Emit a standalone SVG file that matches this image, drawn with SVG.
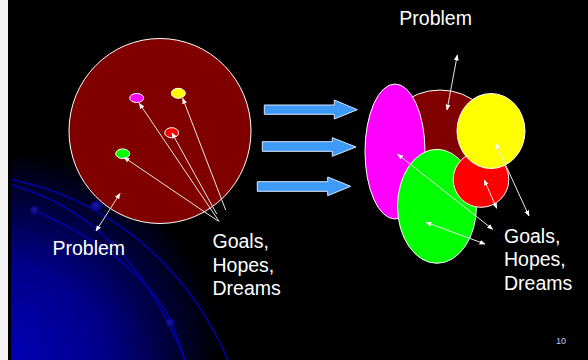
<svg xmlns="http://www.w3.org/2000/svg" width="588" height="360" viewBox="0 0 588 360">
<defs>
<radialGradient id="bg" cx="10" cy="360" r="210" gradientUnits="userSpaceOnUse">
<stop offset="0" stop-color="#0000b4"/>
<stop offset="0.45" stop-color="#00008a"/>
<stop offset="0.8" stop-color="#000030"/>
<stop offset="1" stop-color="#000000"/>
</radialGradient>
<radialGradient id="dot" cx="0.4" cy="0.4" r="0.6">
<stop offset="0" stop-color="#1a1aa8"/>
<stop offset="1" stop-color="#000070"/>
</radialGradient>
<marker id="ah" viewBox="0 0 10 10" refX="9" refY="5" markerWidth="6" markerHeight="6" orient="auto-start-reverse" markerUnits="userSpaceOnUse">
<path d="M0,1 L10,5 L0,9 z" fill="#ffffff"/>
</marker>
<style>
.lbl{font-family:"Liberation Sans",Arial,sans-serif;font-size:19.5px;fill:#ffffff}
.shape{stroke:#ffffff;stroke-width:1}
.big{fill:#800000;stroke:#ffffff;stroke-width:1}
.ln{stroke:#e8e8e8;stroke-width:1;fill:none}
.arr{stroke:#e8e8e8;stroke-width:1;fill:none;marker-end:url(#ah)}
.arr2{stroke:#e8e8e8;stroke-width:1;fill:none;marker-end:url(#ah);marker-start:url(#ah)}
.curve{stroke:#0000a8;stroke-width:1.6;fill:none}
.blue{fill:#3d9bf7;stroke:#d8e8ff;stroke-width:1}
</style>
</defs>
<rect x="0" y="0" width="588" height="360" fill="#000000"/>
<rect x="11" y="0" width="577" height="360" fill="url(#bg)"/>
<rect x="0" y="0" width="8" height="360" fill="#f4f4f4"/>
<g id="decor">
<path class="curve" d="M 12 180 C 90 195, 180 250, 228 360"/>
<path class="curve" d="M 12 185 C 80 205, 140 250, 185 360"/>
<path class="curve" d="M 35 211 C 90 235, 145 270, 172 323 L 185 360"/>
<ellipse cx="96.5" cy="206.5" rx="6" ry="5.5" fill="url(#dot)"/>
<circle cx="35" cy="210.7" r="4.5" fill="url(#dot)"/>
<circle cx="170.7" cy="323.3" r="4.5" fill="url(#dot)"/>
</g>
<g id="problem-left">
<ellipse class="big" cx="160" cy="131" rx="91" ry="92.5"/>
</g>
<g id="goal-magenta-small"><ellipse class="shape" cx="136.7" cy="98" rx="7" ry="4.5" fill="#ff00ff"/></g>
<g id="goal-yellow-small"><ellipse class="shape" cx="178.3" cy="93.3" rx="7" ry="5" fill="#ffff00"/></g>
<g id="goal-red-small"><ellipse class="shape" cx="171.7" cy="132.7" rx="7" ry="5" fill="#ff0000"/></g>
<g id="goal-green-small"><ellipse class="shape" cx="122.7" cy="153.7" rx="7" ry="4.8" fill="#00ff00"/></g>
<g id="arrows-blue">
<path class="blue" d="M264.3,105 L334.3,105 L334.3,100 L357.3,109.7 L334.3,119 L334.3,114.3 L264.3,114.3 Z"/>
<path class="blue" d="M262.3,141.7 L332.3,141.7 L332.3,137.7 L356,147 L332.3,156.3 L332.3,151.3 L262.3,151.3 Z"/>
<path class="blue" d="M257.3,181.7 L327.7,181.7 L327.7,177 L350.7,186.3 L327.7,195.7 L327.7,191.3 L257.3,191.3 Z"/>
</g>
<g id="problem-right"><ellipse class="big" cx="440" cy="145" rx="58" ry="55"/></g>
<g id="goal-magenta"><ellipse class="shape" cx="395" cy="151.5" rx="30" ry="67.5" fill="#ff00ff"/></g>
<g id="goal-green"><ellipse class="shape" cx="437" cy="206.3" rx="39.5" ry="57" fill="#00ff00"/></g>
<g id="goal-red"><circle class="shape" cx="481" cy="179.5" r="27.8" fill="#ff0000"/></g>
<g id="goal-yellow"><ellipse class="shape" cx="491" cy="131" rx="34" ry="37.5" fill="#ffff00"/></g>
<g id="connectors">
<line class="arr2" x1="96" y1="231" x2="120" y2="193.5"/>
<line class="arr" x1="219.3" y1="221.7" x2="139.3" y2="103.3"/>
<line class="arr" x1="218" y1="221" x2="124" y2="157.3"/>
<line class="arr" x1="216.7" y1="214" x2="172" y2="133"/>
<line class="arr" x1="225.7" y1="210" x2="182.7" y2="98.3"/>
<line class="arr2" x1="447" y1="110" x2="457.3" y2="55"/>
<line class="arr2" x1="492.7" y1="229.3" x2="397.7" y2="154.3"/>
<line class="arr2" x1="485" y1="244" x2="426" y2="222.3"/>
<line class="arr2" x1="496.7" y1="208.3" x2="484.3" y2="180"/>
<line class="arr2" x1="529" y1="216" x2="495.7" y2="143.3"/>
</g>
<g id="labels">
<text class="lbl" x="52.5" y="255">Problem</text>
<text class="lbl" x="212.5" y="248">Goals,</text>
<text class="lbl" x="212.5" y="271.5">Hopes,</text>
<text class="lbl" x="212.5" y="294.5">Dreams</text>
<text class="lbl" x="399.3" y="25">Problem</text>
<text class="lbl" x="504" y="243">Goals,</text>
<text class="lbl" x="504" y="266">Hopes,</text>
<text class="lbl" x="504" y="290">Dreams</text>
<text x="556" y="344" font-family="Liberation Sans,Arial,sans-serif" font-size="9" fill="#c8c8ff">10</text>
</g>
</svg>
